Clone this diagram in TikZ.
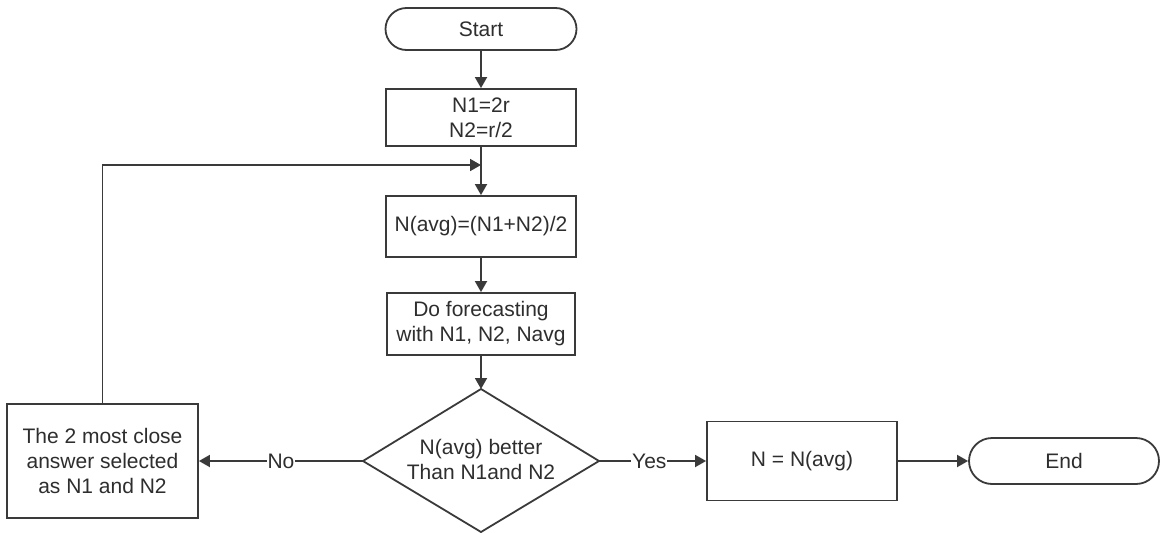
\documentclass[tikz,border=0pt]{standalone}
\usepackage{fontspec}
\setmainfont{Liberation Sans}
\usetikzlibrary{arrows.meta}
\definecolor{ink}{HTML}{3A3A3A}
\definecolor{txt}{HTML}{2E2E2E}

\begin{document}
\begin{tikzpicture}[x=1pt,y=-1pt,
  every node/.style={font=\fontsize{21}{25}\selectfont, text=txt},
  proc/.style={draw=ink, line width=1.8pt, fill=white, align=center, inner sep=2pt},
  term/.style={proc, rounded corners=#1},
  flow/.style={draw=ink, line width=1.8pt, -{Triangle[length=11pt,width=12pt]}},
  edge/.style={draw=ink, line width=1.8pt},
  lbl/.style={fill=white, inner sep=1pt}]

  % page frame
  \useasboundingbox (0,0) rectangle (1160,533);

  % main column
  \node[term=21pt, minimum width=191pt, minimum height=42pt] (start) at (481,29) {Start};
  \node[proc, minimum width=190pt, minimum height=57pt] (init) at (481,117.5) {N1=2r\\N2=r/2};
  \node[proc, minimum width=190pt, minimum height=61pt] (avg) at (481,226.5) {N(avg)=(N1+N2)/2};
  \node[proc, minimum width=188pt, minimum height=62pt] (fc) at (481,324) {Do forecasting\\with N1, N2, Navg};

  % decision
  \node[align=center, inner sep=0pt] (dec) at (481,459) {N(avg) better\\Than N1and N2};
  \coordinate (decT) at (481,389);
  \coordinate (decR) at (599,461);
  \coordinate (decB) at (481,532);
  \coordinate (decL) at (363,461);
  \draw[edge, line join=miter] (decT) -- (decR) -- (decB) -- (decL) -- cycle;

  % side branches
  \node[proc, minimum width=191pt, minimum height=114pt] (sel) at (102.5,461) {The 2 most close\\answer selected\\as N1 and N2};
  \node[proc, minimum width=190pt, minimum height=79pt] (res) at (802,461) {N = N(avg)};
  \node[term=23pt, minimum width=190pt, minimum height=46pt] (stop) at (1064,461) {End};

  % connectors
  \draw[flow] (start) -- (init);
  \draw[flow] (init) -- (avg);
  \draw[flow] (avg) -- (fc);
  \draw[flow] (fc) -- (decT);
  \draw[flow] (decL) -- node[lbl, pos=0.5] {No} (sel.east);
  \draw[flow] (decR) -- node[lbl, pos=0.47] {Yes} (res.west);
  \draw[flow] (res) -- (stop);

  % loop back into the average step
  \coordinate (join) at (481,165);
  \draw[flow] (sel.north) |- (join);
\end{tikzpicture}
\end{document}
